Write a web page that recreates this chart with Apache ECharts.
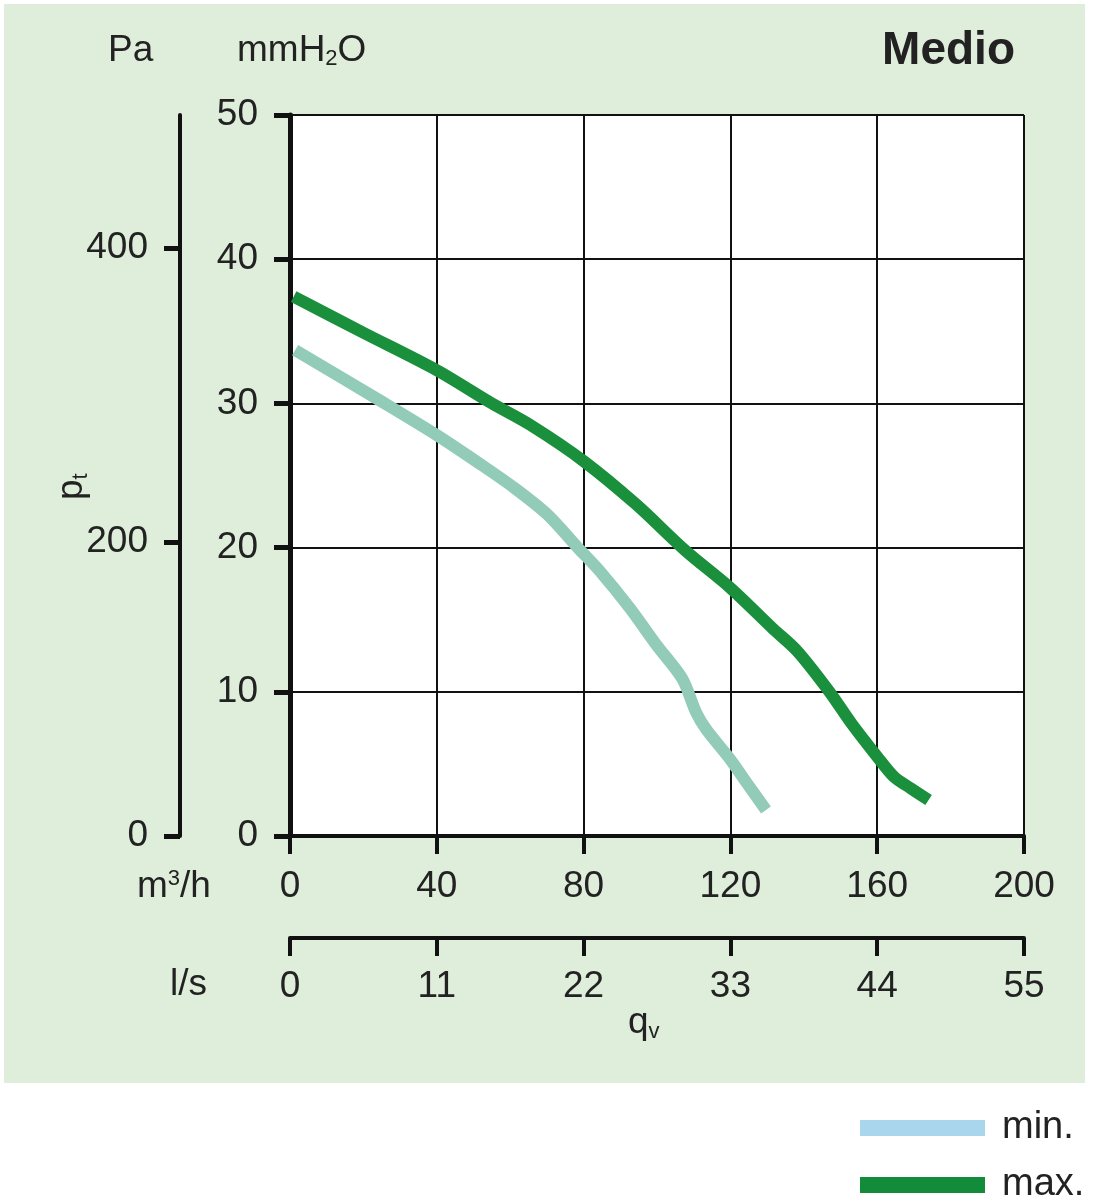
<!DOCTYPE html>
<html>
<head>
<meta charset="utf-8">
<title>Medio</title>
<script src="https://cdn.jsdelivr.net/npm/echarts@6/dist/echarts.min.js"></script>
<style>
	html, body { margin: 0; padding: 0; background: #fff; }
	#panel { position: absolute; left: 4px; top: 4px; width: 1081px; height: 1079px; background: #dfeddb; }
	#chart { position: absolute; left: 0; top: 0; width: 1097px; height: 1200px; }
</style>
</head>
<body>
<div id="panel"></div>
<div id="chart"></div>
<script>
// flow in m3/h, pressure in mmH2O
var q_min = [1.4, 24.5, 40, 51.8, 60.8, 70.1, 78.4, 84.3, 92.6, 100, 106.9, 110.6, 113.4, 120, 124.4, 129.7];
var p_min = [33.7, 30.2, 27.8, 25.8, 24.2, 22.3, 20.0, 18.4, 15.8, 13.2, 10.9, 8.6, 7.4, 5.3, 3.7, 1.8];

var q_max = [1, 20, 40, 55, 65.5, 80, 94.3, 107.7, 120, 131.5, 138.3, 147, 153, 160, 164.6, 169.2, 174];
var p_max = [37.4, 34.9, 32.3, 30, 28.5, 26.0, 23.0, 19.8, 17.2, 14.4, 12.8, 10, 7.8, 5.5, 4.1, 3.3, 2.5];

var series_names = ['min.', 'max.'];
var legend_colors = ['#a9d6ec', '#128b3b'];
var pa_ticks = [0, 200, 400];
var mm_to_pa = 9.81;

var FONT = "'Liberation Sans', Arial, sans-serif";

function pairs(xs, ys) {
	var t = [];
	for (var i = 0; i < xs.length; i++) {
		t.push([xs[i], ys[i]]);
	}
	return t;
}

// one legend block per series, stacked at the bottom right
function legendFor(i, top) {
	return {
		orient: 'vertical',
		left: 860, top: top,
		padding: 0,
		icon: 'rect',
		itemWidth: 125, itemHeight: 16,
		textStyle: { fontSize: 38, letterSpacing: 2, color: '#222', fontFamily: FONT, padding: [0, 0, 0, 12] },
		data: [{ name: series_names[i], itemStyle: { color: legend_colors[i] } }]
	};
}

var axisLineStyle = { color: '#111', width: 4 };
var labelStyle = { color: '#222', fontSize: 37, fontFamily: FONT };

var myChart = echarts.init(document.getElementById('chart'));

var option = {
	backgroundColor: 'transparent',
	animation: false,
	grid: {
		left: 290, top: 115, width: 734, height: 721,
		show: true, backgroundColor: '#fff', borderWidth: 0
	},
	legend: [legendFor(0, 1109), legendFor(1, 1166)],
	xAxis: [{
		type: 'value', min: 0, max: 200, interval: 40,
		position: 'bottom',
		axisLine: { onZero: false, lineStyle: axisLineStyle },
		axisTick: { length: 18, lineStyle: { color: '#111', width: 4 } },
		axisLabel: Object.assign({ margin: 32 }, labelStyle),
		splitLine: { show: true, lineStyle: { color: '#111', width: 2 } }
	}, {
		// l/s scale
		type: 'value', min: 0, max: 55, interval: 11,
		position: 'bottom', offset: 102,
		axisLine: { onZero: false, lineStyle: axisLineStyle },
		axisTick: { length: 18, lineStyle: { color: '#111', width: 4 } },
		axisLabel: Object.assign({ margin: 30 }, labelStyle),
		splitLine: { show: false }
	}],
	yAxis: [{
		type: 'value', min: 0, max: 50, interval: 10,
		position: 'left',
		axisLine: { onZero: false, lineStyle: { color: '#111', width: 5 } },
		axisTick: { length: 16, lineStyle: { color: '#111', width: 5 } },
		axisLabel: Object.assign({ margin: 32 }, labelStyle),
		splitLine: { show: true, lineStyle: { color: '#111', width: 2 } }
	}, {
		// Pa scale
		type: 'value', min: 0, max: 50 * mm_to_pa,
		position: 'left', offset: 110,
		axisLine: { onZero: false, lineStyle: axisLineStyle },
		axisTick: { length: 16, customValues: pa_ticks, lineStyle: { color: '#111', width: 5 } },
		axisLabel: Object.assign({ margin: 32, customValues: pa_ticks }, labelStyle),
		splitLine: { show: false }
	}],
	graphic: [
		{ type: 'text', left: 108, top: 32, style: { text: 'Pa', fontSize: 37, fill: '#222', fontFamily: FONT } },
		{ type: 'text', left: 237, top: 32, style: {
			text: '{a|mmH}{s|2}{a|O}', fill: '#222',
			rich: { a: { fontSize: 37, fontFamily: FONT, fill: '#222' }, s: { fontSize: 22, fontFamily: FONT, fill: '#222', padding: [16, 0, 0, 0] } }
		} },
		{ type: 'text', right: 82, top: 28, style: { text: 'Medio', fontSize: 46, fontWeight: 'bold', fill: '#222', fontFamily: FONT } },
		{ type: 'text', left: 137, top: 868, style: {
			text: '{a|m}{s|3}{a|/h}', fill: '#222',
			rich: { a: { fontSize: 37, fontFamily: FONT, fill: '#222' }, s: { fontSize: 22, fontFamily: FONT, fill: '#222', padding: [0, 0, 16, 0] } }
		} },
		{ type: 'text', left: 170, top: 966, style: { text: 'l/s', fontSize: 37, fill: '#222', fontFamily: FONT } },
		{ type: 'text', left: 628, top: 1004, style: {
			text: '{a|q}{s|v}', fill: '#222',
			rich: { a: { fontSize: 37, fontFamily: FONT, fill: '#222' }, s: { fontSize: 22, fontFamily: FONT, fill: '#222', padding: [18, 0, 0, 0] } }
		} },
		{ type: 'text', x: 52, y: 500, rotation: Math.PI / 2, style: {
			text: '{a|p}{s|t}', fill: '#222',
			rich: { a: { fontSize: 37, fontFamily: FONT, fill: '#222' }, s: { fontSize: 22, fontFamily: FONT, fill: '#222', padding: [18, 0, 0, 0] } }
		} }
	],
	series: [{
		name: series_names[0],
		type: 'line',
		smooth: 0.3,
		showSymbol: false,
		itemStyle: { color: legend_colors[0] },
		lineStyle: { color: '#92ccb8', width: 12 },
		data: pairs(q_min, p_min)
	}, {
		name: series_names[1],
		type: 'line',
		smooth: 0.3,
		showSymbol: false,
		itemStyle: { color: legend_colors[1] },
		lineStyle: { color: '#1a8f3c', width: 12 },
		data: pairs(q_max, p_max)
	}]
};
myChart.setOption(option);
</script>
</body>
</html>
